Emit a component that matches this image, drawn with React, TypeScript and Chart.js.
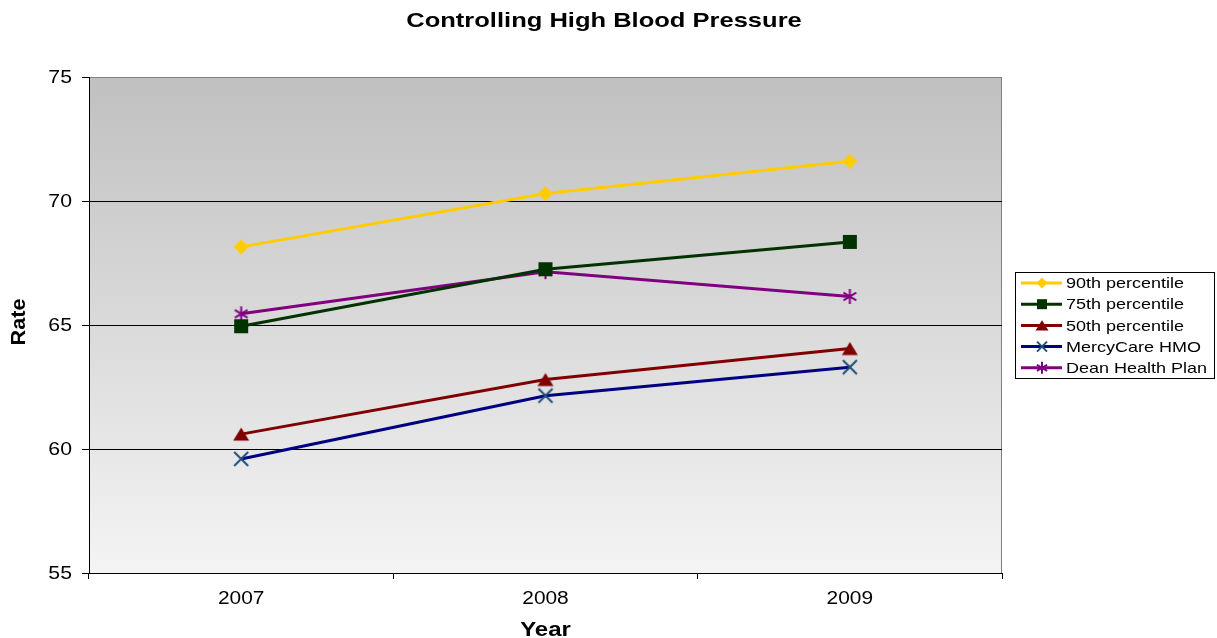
import React, { useEffect, useRef } from "react";
import { Chart, registerables } from "chart.js";

Chart.register(...registerables);

const years = ["2007", "2008", "2009"];
const p90 = [68.15, 70.3, 71.6];
const p75 = [64.95, 67.25, 68.35];
const p50 = [60.6, 62.8, 64.05];
const mercyCare = [59.6, 62.15, 63.3];
const dean = [65.45, 67.15, 66.15];
const seriesNames = ["90th percentile", "75th percentile", "50th percentile", "MercyCare HMO", "Dean Health Plan"];
const seriesColors = ["#FFCC00", "#003300", "#800000", "#000080", "#800080"];
const pointColors = ["#FFCC00", "#003300", "#800000", "#1F4E79", "#800080"];
const markerKinds = ["diamond", "square", "triangle", "x", "star"];
const yTicks = [55, 60, 65, 70, 75];

const FONT = "'Liberation Sans', Arial, sans-serif";

function drawMarker(ctx: CanvasRenderingContext2D, kind: string, x: number, y: number, r: number, color: string) {
  ctx.save();
  ctx.fillStyle = color;
  ctx.strokeStyle = color;
  ctx.lineWidth = 2;
  ctx.lineCap = "butt";
  ctx.beginPath();
  if (kind === "diamond") {
    ctx.moveTo(x, y - r); ctx.lineTo(x + r, y); ctx.lineTo(x, y + r); ctx.lineTo(x - r, y); ctx.closePath();
    ctx.fill();
  } else if (kind === "square") {
    ctx.rect(x - r, y - r, r * 2, r * 2);
    ctx.fill();
  } else if (kind === "triangle") {
    ctx.moveTo(x, y - r * 0.8); ctx.lineTo(x + r, y + r * 0.8); ctx.lineTo(x - r, y + r * 0.8); ctx.closePath();
    ctx.fill();
  } else if (kind === "x") {
    ctx.moveTo(x - r, y - r); ctx.lineTo(x + r, y + r);
    ctx.moveTo(x + r, y - r); ctx.lineTo(x - r, y + r);
    ctx.stroke();
  } else {
    const d = r * 0.85;
    ctx.moveTo(x - d, y - d * 0.6); ctx.lineTo(x + d, y + d * 0.6);
    ctx.moveTo(x + d, y - d * 0.6); ctx.lineTo(x - d, y + d * 0.6);
    ctx.moveTo(x, y - r); ctx.lineTo(x, y + r);
    ctx.stroke();
  }
  ctx.restore();
}

function markerImage(kind: string, r: number, color: string) {
  const size = Math.ceil(r * 2 + 4);
  const c = document.createElement("canvas");
  c.width = size;
  c.height = size;
  const ctx = c.getContext("2d") as CanvasRenderingContext2D;
  drawMarker(ctx, kind, size / 2, size / 2, r, color);
  return c;
}

function stretchText(ctx: CanvasRenderingContext2D, text: string, x: number, y: number, sx: number, align: "left" | "center" | "right") {
  const w = ctx.measureText(text).width * sx;
  let left = x;
  if (align === "center") left = x - w / 2;
  else if (align === "right") left = x - w;
  ctx.save();
  ctx.translate(left, y);
  ctx.scale(sx, 1);
  ctx.textAlign = "left";
  ctx.fillText(text, 0, 0);
  ctx.restore();
}

const plotSizes = [7.5, 7, 8, 7, 7.5];
const legendSizes = [5.5, 5, 6.5, 5, 6];

export default function App() {
  const ref = useRef<HTMLCanvasElement | null>(null);
  useEffect(() => {
    const canvas = ref.current;
    if (!canvas) return;
    const values = [p90, p75, p50, mercyCare, dean];
    const datasets = values.map((v, i) => ({
      label: seriesNames[i],
      data: v,
      borderColor: seriesColors[i],
      backgroundColor: pointColors[i],
      pointStyle: markerImage(markerKinds[i], plotSizes[i], pointColors[i]) as any,
      pointRadius: 8,
      borderWidth: 3,
      tension: 0,
    }));

    const decor = {
      id: "decor",
      beforeDraw(chart: any) {
        const { ctx, chartArea: a } = chart;
        ctx.save();
        const g = ctx.createLinearGradient(0, a.top, 0, a.bottom);
        g.addColorStop(0, "#c0c0c0");
        g.addColorStop(1, "#f4f4f4");
        ctx.fillStyle = g;
        ctx.fillRect(a.left, a.top, a.right - a.left, a.bottom - a.top);
        ctx.strokeStyle = "#808080";
        ctx.lineWidth = 1;
        ctx.strokeRect(a.left + 0.5, a.top + 0.5, a.right - a.left - 1, a.bottom - a.top);
        ctx.restore();
      },
      afterDraw(chart: any) {
        const { ctx, chartArea: a } = chart;
        ctx.save();
        ctx.fillStyle = "#000";
        ctx.textBaseline = "middle";

        // tick labels
        ctx.font = `18px ${FONT}`;
        const ys = chart.scales.y;
        ys.ticks.forEach((t: any) => {
          stretchText(ctx, String(t.value), 72, ys.getPixelForValue(t.value) + 1, 1.18, "right");
        });
        const xs = chart.scales.x;
        years.forEach((lab, i) => {
          stretchText(ctx, lab, xs.getPixelForValue(i), 599, 1.16, "center");
        });

        // titles
        ctx.font = `bold 21px ${FONT}`;
        stretchText(ctx, "Controlling High Blood Pressure", 604, 21, 1.215, "center");
        ctx.font = `bold 20px ${FONT}`;
        stretchText(ctx, "Year", (a.left + a.right) / 2, 630, 1.2, "center");
        ctx.save();
        ctx.translate(19, 322);
        ctx.rotate(-Math.PI / 2);
        stretchText(ctx, "Rate", 0, 0, 1.08, "center");
        ctx.restore();

        // legend
        const lx = 1015, ly = 272, lw = 199, lh = 106;
        ctx.fillStyle = "#fff";
        ctx.fillRect(lx, ly, lw, lh);
        ctx.strokeStyle = "#000";
        ctx.lineWidth = 1;
        ctx.strokeRect(lx + 0.5, ly + 0.5, lw, lh);
        ctx.font = `15px ${FONT}`;
        for (let i = 0; i < seriesNames.length; i++) {
          const y = 283 + i * 21.2;
          ctx.strokeStyle = seriesColors[i];
          ctx.lineWidth = 3;
          ctx.beginPath();
          ctx.moveTo(1021, y);
          ctx.lineTo(1062, y);
          ctx.stroke();
          drawMarker(ctx, markerKinds[i], 1042, y, legendSizes[i], pointColors[i]);
          ctx.fillStyle = "#000";
          stretchText(ctx, seriesNames[i], 1066, y + 1, 1.2, "left");
        }
        ctx.restore();
      },
    };

    const chart = new Chart(canvas, {
      type: "line",
      data: { labels: years, datasets },
      options: {
        animation: false,
        responsive: false,
        maintainAspectRatio: false,
        layout: { padding: { top: 77, right: 215, left: 0, bottom: 0 } },
        plugins: { legend: { display: false }, title: { display: false }, tooltip: { enabled: false } },
        scales: {
          x: {
            type: "category",
            offset: true,
            grid: { offset: true, drawOnChartArea: false, color: "#000", tickLength: 6 },
            border: { color: "#000" },
            ticks: { display: false },
            afterFit(scale: any) { scale.height = 65; },
          },
          y: {
            min: 55,
            max: 75,
            afterBuildTicks(scale: any) { scale.ticks = yTicks.map((v) => ({ value: v })); },
            grid: {
              color: (c: any) => (c.tick && c.tick.value === 75 ? "#808080" : "#000"),
              tickLength: 7,
              tickColor: "#000",
            },
            border: { color: "#000" },
            ticks: { display: false },
            afterFit(scale: any) { scale.width = 89; },
          },
        },
      },
      plugins: [decor],
    });
    return () => chart.destroy();
  }, []);
  return (
    <div style={{ position: "fixed", left: 0, top: 0, width: 1217, height: 638, background: "#fff" }}>
      <canvas ref={ref} width={1217} height={638} style={{ width: 1217, height: 638 }} />
    </div>
  );
}
